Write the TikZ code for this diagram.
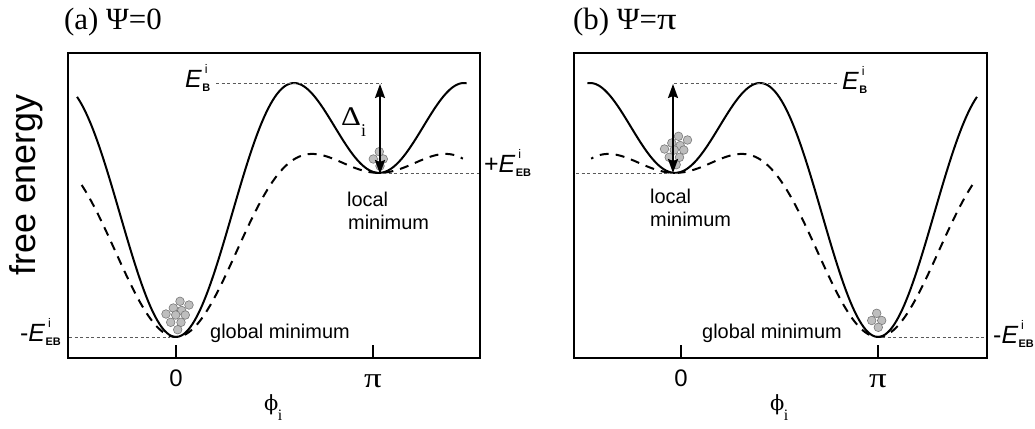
\documentclass[tikz,border=0pt]{standalone}
\usepackage{fontspec}
\usepackage{graphicx}
\setmainfont{Liberation Serif}
\setsansfont{Liberation Sans}
\newfontfamily\phifont{DejaVu Serif}
\usetikzlibrary{arrows.meta}
\definecolor{ballfill}{RGB}{190,190,190}
\definecolor{ballline}{RGB}{120,120,120}
\definecolor{guidecol}{RGB}{90,90,90}
\newcommand{\Elab}[3]{#1\textit{E}\kern0.3bp\rlap{\kern2.5bp\raisebox{14bp}{\fontsize{12.5}{12.5}\selectfont #2}}\raisebox{-4bp}{\fontsize{11}{11}\selectfont\bfseries #3}}
\newcommand{\wpi}{\scalebox{1.25}[1]{π}}
\tikzset{
 frame/.style={line width=2bp},
 curve/.style={line width=2bp},
 dcurve/.style={line width=2bp, dash pattern=on 9bp off 7bp},
 guide/.style={line width=0.8bp, guidecol, dash pattern=on 3bp off 2.5bp},
 ball/.style={fill=ballfill, draw=ballline, line width=0.6bp},
 darrow/.style={line width=2bp, {Stealth[length=14bp,width=10bp,inset=2bp]}-{Stealth[length=14bp,width=10bp,inset=2bp]}},
 lbl/.style={font=\sffamily\fontsize{20}{22}\selectfont, inner sep=0pt},
 elbl/.style={font=\sffamily\fontsize{25}{25}\selectfont, inner sep=0pt},
 ttl/.style={font=\fontsize{31}{31}\selectfont, inner sep=0pt},
 tick/.style={line width=2bp},
 zero/.style={font=\sffamily\fontsize{24}{24}\selectfont, inner sep=0pt},
 pilbl/.style={font=\fontsize{28}{28}\selectfont, inner sep=0pt},
 philbl/.style={font=\fontsize{21}{21}\selectfont, inner sep=0pt},
}
\begin{document}
\begin{tikzpicture}[x=1bp,y=-1bp]
\useasboundingbox (0,0) rectangle (1035,428);

% titles
\node[ttl, anchor=base west] (ta) at (64,29) {(a) Ψ=0};
\node[ttl, anchor=base west] (tb) at (573,29) {(b) Ψ=\wpi};

% y label
\node[rotate=90, font=\sffamily\fontsize{36}{36}\selectfont, inner sep=0pt] (yl) at (26,185) {free energy};

% ---------------- panel (a) ----------------
\foreach \p in {(180,301.3),(189,305),(173.3,308),(181.7,310.5),(166,314),(175.7,315),(185.3,315),(170.7,322.3),(181,322.3),(177.7,329.7)}
  \draw[ball] \p circle (4.3bp);
\foreach \p in {(379.3,151.7),(373.3,159),(383.3,159),(380,166)}
  \draw[ball] \p circle (4.3bp);

\draw[curve] plot[domain=-1.532:4.50, samples=200, smooth] ({176+64.6*\x}, {93.4-161.5*(sin(\x r)*sin(\x r) - 0.508*cos(\x r) - 1)});
\draw[dcurve] plot[domain=-1.46:4.44, samples=200, smooth] ({176+64.6*\x}, {93.4-161.5*(0.495*sin(\x r)*sin(\x r) - 0.508*cos(\x r) - 1)});

\draw[frame] (67.5,53) rectangle (480,358);
\draw[tick] (176,345) -- (176,358);
\draw[tick] (373,345) -- (373,358);
\node[zero, anchor=base] (a0) at (176,386) {0};
\node[pilbl, anchor=base] (api) at (373,387) {\wpi};
\node[philbl, anchor=base west] (aphi) at (264,410) {{\phifont ϕ}\kern-0.5bp\raisebox{-10bp}{\fontsize{16}{16}\selectfont i}};

% labels (a)
\node[elbl, anchor=base west] (aEB) at (185,87) {\Elab{}{i}{B}};
\node[elbl, anchor=base west] (aEEBp) at (484,172) {\Elab{+}{i}{EB}};
\node[elbl, anchor=base west] (aEEBm) at (20,341) {\Elab{-}{i}{EB}};
\coordinate (aBstart) at (216,83);
\coordinate (aBend) at (382,83);
\coordinate (aLoc) at (383,173);
\coordinate (aLocEnd) at (479,173);
\coordinate (aGlo) at (69,337);
\coordinate (aGloEnd) at (170,337);
\draw[guide] (aBstart) -- (aBend);
\draw[guide] (aLoc) -- (aLocEnd);
\draw[guide] (aGlo) -- (aGloEnd);

\coordinate (aTop) at (380,84);
\coordinate (aBot) at (380,174);
\draw[darrow] (aBot) -- (aTop);
\node[font=\fontsize{27}{27}\selectfont, inner sep=0pt, anchor=base west] (adelta) at (341,125) {\scalebox{1.15}[1]{Δ}\raisebox{-11bp}{\fontsize{18}{18}\selectfont i}};

\node[lbl, anchor=base west] (aloc1) at (347,206) {local};
\node[lbl, anchor=base west] (aloc2) at (348,229) {minimum};
\node[lbl, anchor=base west] (aglob) at (210,338) {global minimum};

% ---------------- panel (b) ----------------
\foreach \p in {(180,301.3),(189,305),(173.3,308),(181.7,310.5),(166,314),(175.7,315),(185.3,315),(170.7,322.3),(181,322.3),(177.7,329.7)}
  \draw[ball, shift={(498.5,-165)}] \p circle (4.3bp);
\foreach \p in {(876.7,313.3),(871.7,320.5),(881.7,320.5),(878.3,327.3)}
  \draw[ball] \p circle (4.3bp);

\draw[curve] plot[domain=-1.532:4.50, samples=200, smooth] ({878-64.6*\x}, {93.4-161.5*(sin(\x r)*sin(\x r) - 0.508*cos(\x r) - 1)});
\draw[dcurve] plot[domain=-1.46:4.44, samples=200, smooth] ({878-64.6*\x}, {93.4-161.5*(0.495*sin(\x r)*sin(\x r) - 0.508*cos(\x r) - 1)});

\draw[frame] (574,53) rectangle (987,358);
\draw[tick] (681,345) -- (681,358);
\draw[tick] (878,345) -- (878,358);
\node[zero, anchor=base] (b0) at (681,386) {0};
\node[pilbl, anchor=base] (bpi) at (878,387) {\wpi};
\node[philbl, anchor=base west] (bphi) at (770,410) {{\phifont ϕ}\kern-0.5bp\raisebox{-10bp}{\fontsize{16}{16}\selectfont i}};

\node[elbl, anchor=base west] (bEB) at (842,89) {\Elab{}{i}{B}};
\node[elbl, anchor=base west] (bEEBm) at (993,343) {\Elab{-}{i}{EB}};
\coordinate (bBstart) at (674,83);
\coordinate (bBend) at (838,83);
\coordinate (bLoc) at (576,173);
\coordinate (bLocEnd) at (678,173);
\coordinate (bGlo) at (882,337);
\coordinate (bGloEnd) at (986,337);
\draw[guide] (bBstart) -- (bBend);
\draw[guide] (bLoc) -- (bLocEnd);
\draw[guide] (bGlo) -- (bGloEnd);

\coordinate (bTop) at (673,84);
\coordinate (bBot) at (673,173);
\draw[darrow] (bBot) -- (bTop);

\node[lbl, anchor=base west] (bloc1) at (650,203) {local};
\node[lbl, anchor=base west] (bloc2) at (650,226) {minimum};
\node[lbl, anchor=base west] (bglob) at (702,338) {global minimum};
\end{tikzpicture}
\end{document}
